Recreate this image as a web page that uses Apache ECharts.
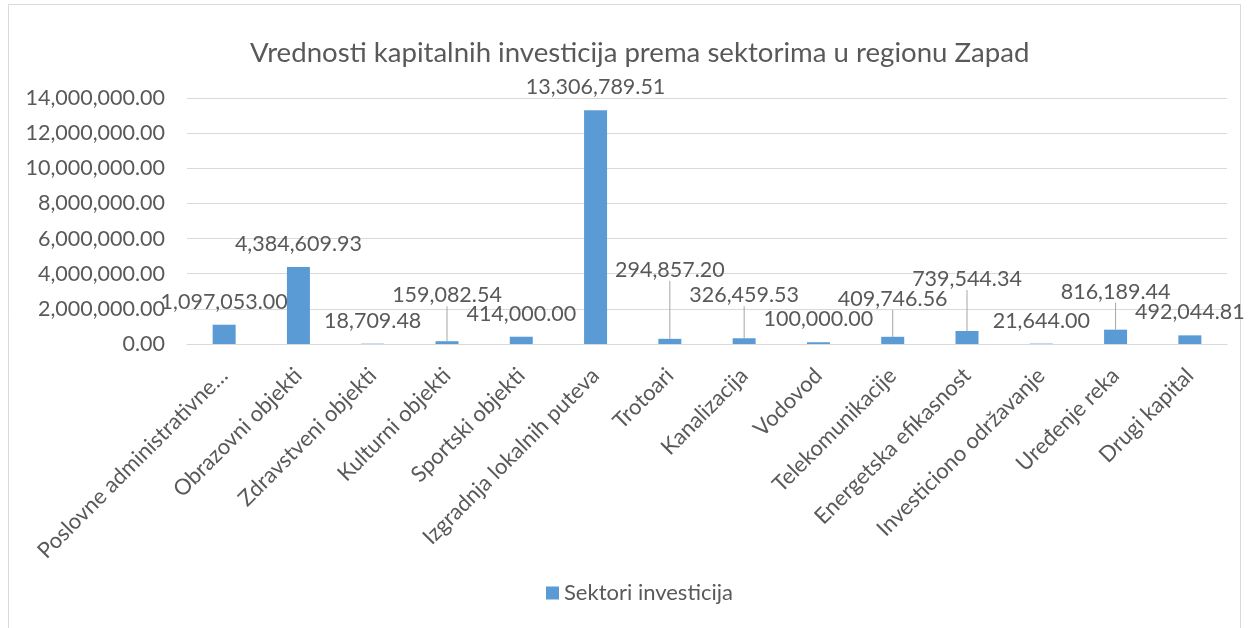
<!DOCTYPE html>
<html>
<head>
<meta charset="utf-8">
<script src="https://cdn.jsdelivr.net/npm/echarts@6/dist/echarts.min.js"></script>
<style>html,body{margin:0;padding:0;background:#fff}#c{width:1250px;height:628px}</style>
</head>
<body>
<div id="c"></div>
<script>
const titleText = 'Vrednosti kapitalnih investicija prema sektorima u regionu Zapad';
const seriesName = 'Sektori investicija';
const categories = ['Poslovne administrativne…','Obrazovni objekti','Zdravstveni objekti','Kulturni objekti','Sportski objekti','Izgradnja lokalnih puteva','Trotoari','Kanalizacija','Vodovod','Telekomunikacije','Energetska efikasnost','Investiciono održavanje','Uređenje reka','Drugi kapital'];
const values = [1097053.00, 4384609.93, 18709.48, 159082.54, 414000.00, 13306789.51, 294857.20, 326459.53, 100000.00, 409746.56, 739544.34, 21644.00, 816189.44, 492044.81];
// extra upward shift of labels that Excel moved (with leader lines)
const labelShift = [0, 0, 0, -23, 0, 0, -46, -20, 0, -15, -29, 0, -15, 0];
const leaderLine = [false, false, false, true, false, false, true, true, false, true, true, false, true, false];
const yTicks = {min: 0, max: 14000000, interval: 2000000};

function fmt(v){
  const s = Number(v).toFixed(2);
  const [i, d] = s.split('.');
  return i.replace(/\B(?=(\d{3})+(?!\d))/g, ',') + '.' + d;
}

const FONT = 'Lato';
const TXT = '#595959';
const chart = echarts.init(document.getElementById('c'), null, {renderer: 'canvas'});
chart.setOption({
  animation: false,
  backgroundColor: '#fff',
  textStyle: {fontFamily: FONT, color: TXT},
  graphic: [{type: 'rect', shape: {x: 8.5, y: 4.5, width: 1232, height: 640}, style: {fill: 'none', stroke: '#d9d9d9', lineWidth: 1}, silent: true}],
  title: {text: titleText, left: 245, top: 34, textStyle: {fontFamily: FONT, fontSize: 27.6, fontWeight: 'normal', color: TXT}},
  legend: {bottom: 19, left: 541, itemWidth: 13, itemHeight: 13, icon: 'rect', itemGap: 6, textStyle: {fontFamily: FONT, fontSize: 22, color: TXT}, data: [seriesName]},
  grid: {left: 187, right: 23, top: 98, bottom: 284, containLabel: false},
  xAxis: {
    type: 'category', data: categories,
    axisLine: {lineStyle: {color: '#d9d9d9', width: 1}},
    axisTick: {show: false},
    axisLabel: {rotate: 45, interval: 0, fontFamily: FONT, fontSize: 22, color: TXT, margin: 28}
  },
  yAxis: {
    type: 'value', min: yTicks.min, max: yTicks.max, interval: yTicks.interval,
    axisLine: {show: false}, axisTick: {show: false},
    splitLine: {lineStyle: {color: '#d9d9d9', width: 1}},
    axisLabel: {formatter: fmt, fontFamily: FONT, fontSize: 21.5, color: TXT, margin: 22}
  },
  series: [{
    name: seriesName, type: 'bar', barWidth: 23,
    itemStyle: {color: '#5B9BD5'},
    data: values.map((v, i) => ({value: v, labelLine: {show: leaderLine[i]}})),
    label: {show: true, position: 'top', distance: 12, formatter: p => fmt(p.value), fontFamily: FONT, fontSize: 21.5, color: TXT},
    labelLine: {lineStyle: {color: '#a6a6a6', width: 1}},
    labelLayout: p => ({dy: labelShift[p.dataIndex]})
  }]
});
</script>
</body>
</html>
